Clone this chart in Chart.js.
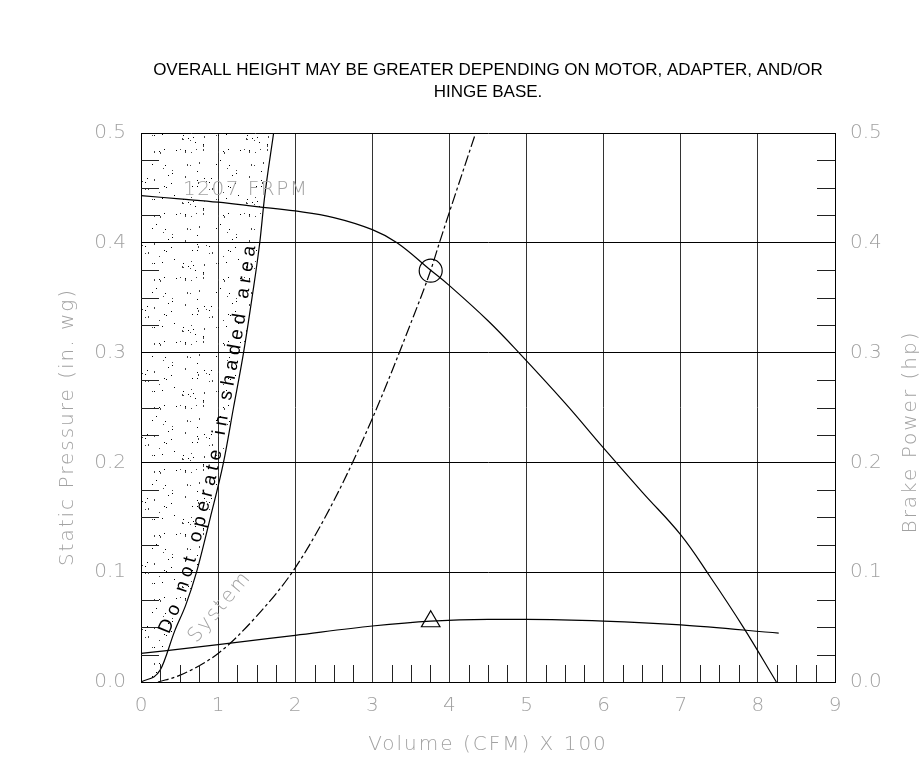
<!DOCTYPE html>
<html>
<head>
<meta charset="utf-8">
<script src="https://cdn.jsdelivr.net/npm/chart.js@4.4.1/dist/chart.umd.min.js"></script>
<style>
  html, body { margin: 0; padding: 0; background: #fff; }
  #wrap { width: 919px; height: 761px; }
</style>
</head>
<body>
<div id="wrap"><canvas id="fanChart" width="919" height="761"></canvas></div>
<script>
// Fan performance, volume in hundreds of CFM

// left edge of the "do not operate" zone
const shadeX = [0, 0.25, 0.44, 0.58, 0.72, 0.9, 1.07, 1.2, 1.33, 1.44, 1.54, 1.6, 1.72];
const shadeY = [0, 0.011, 0.047, 0.07, 0.1, 0.15, 0.2, 0.25, 0.3, 0.35, 0.4, 0.44, 0.5];

// static pressure at 1207 RPM
const volumeX = [0, 0.5, 1, 1.5, 2, 2.5, 3, 3.32, 3.757, 4, 4.5, 4.9, 5.5, 6, 6.5, 7, 7.37, 7.81, 8.24];
const pressureY = [0.443, 0.44, 0.437, 0.433, 0.429, 0.423, 0.412, 0.4, 0.375, 0.361, 0.329, 0.3, 0.254, 0.213, 0.173, 0.134, 0.097, 0.05, 0];

// system curve
const systemX = [0.22, 0.5, 1, 1.5, 2, 2.5, 3, 3.5, 3.757, 3.87, 4, 4.34];
const systemY = [0, 0.006, 0.026, 0.06, 0.104, 0.165, 0.24, 0.327, 0.375, 0.4, 0.428, 0.5];

// brake power (right axis)
const powerX = [0, 1, 2, 3, 3.757, 4.5, 5, 6, 7, 8.27];
const powerY = [0.026, 0.034, 0.0425, 0.051, 0.0555, 0.057, 0.057, 0.0555, 0.052, 0.0445];

// operating point
const opX = [3.757];
const opPressure = [0.3746];
const opPower = [0.0552];

const xTickLabels = ['0', '1', '2', '3', '4', '5', '6', '7', '8', '9'];
const yTickLabels = ['0.0', '0.1', '0.2', '0.3', '0.4', '0.5'];
const powerTickLabels = ['0.0', '0.1', '0.2', '0.3', '0.4', '0.5'];

const titleLines = ['OVERALL HEIGHT MAY BE GREATER DEPENDING ON MOTOR, ADAPTER, AND/OR', 'HINGE BASE.'];
const xTitle = 'Volume (CFM) X 100';
const yTitle = 'Static Pressure (in. wg)';
const y2Title = 'Brake Power (hp)';
const rpmLabel = '1207 FRPM';
const systemLabel = 'System';
const zoneLabel = 'Do not operate in shaded area';

const GREY = '#a2a2a2';
const THIN = '"DejaVu Sans", sans-serif';

const pairs = (xs, ys) => xs.map((x, i) => ({ x, y: ys[i] }));

// speckle texture for the shaded zone
function stipple(ctx) {
  const size = 64;
  const c = document.createElement('canvas');
  c.width = size; c.height = size;
  const g = c.getContext('2d');
  let s = 20240611;
  const rand = () => {
    s = (s + 0x6D2B79F5) | 0;
    let t = Math.imul(s ^ (s >>> 15), 1 | s);
    t = (t + Math.imul(t ^ (t >>> 7), 61 | t)) ^ t;
    return ((t ^ (t >>> 14)) >>> 0) / 4294967296;
  };
  for (let i = 0; i < 54; i++) {
    const px = Math.floor(rand() * size), py = Math.floor(rand() * size);
    const r = rand();
    g.fillStyle = r < 0.5 ? '#000' : '#444';
    g.fillRect(px, py, 1, r > 0.8 ? 2 : 1);
  }
  return ctx.createPattern(c, 'repeat');
}

// sample the drawn bezier of a line dataset into a polyline
function samplePath(meta) {
  const els = meta.data, out = [];
  for (let i = 0; i < els.length - 1; i++) {
    const a = els[i], b = els[i + 1];
    const c1x = a.cp2x ?? a.x, c1y = a.cp2y ?? a.y, c2x = b.cp1x ?? b.x, c2y = b.cp1y ?? b.y;
    for (let k = 0; k < 12; k++) {
      const t = k / 12, u = 1 - t;
      out.push({
        x: u * u * u * a.x + 3 * u * u * t * c1x + 3 * u * t * t * c2x + t * t * t * b.x,
        y: u * u * u * a.y + 3 * u * u * t * c1y + 3 * u * t * t * c2y + t * t * t * b.y
      });
    }
  }
  const last = els[els.length - 1];
  out.push({ x: last.x, y: last.y });
  return out;
}

function lengthAtY(path, py) {
  let s = 0;
  for (let i = 1; i < path.length; i++) {
    const p = path[i - 1], q = path[i];
    const L = Math.hypot(q.x - p.x, q.y - p.y);
    if ((p.y - py) * (q.y - py) <= 0 && p.y !== q.y) return s + L * (p.y - py) / (p.y - q.y);
    s += L;
  }
  return s;
}

function along(path, s) {
  for (let i = 1; i < path.length; i++) {
    const p = path[i - 1], q = path[i];
    const L = Math.hypot(q.x - p.x, q.y - p.y);
    if (s <= L || i === path.length - 1) {
      const t = L ? s / L : 0;
      return { x: p.x + (q.x - p.x) * t, y: p.y + (q.y - p.y) * t, ang: Math.atan2(q.y - p.y, q.x - p.x) };
    }
    s -= L;
  }
}

function textOnPath(ctx, path, text, yStart, yEnd, offset) {
  const s0 = lengthAtY(path, yStart), s1 = lengthAtY(path, yEnd);
  const chars = [...text];
  const widths = chars.map(ch => ctx.measureText(ch).width);
  const sum = widths.reduce((a, b) => a + b, 0);
  const gap = (s1 - s0 - sum) / (chars.length - 1);
  let s = s0;
  ctx.textAlign = 'center';
  ctx.textBaseline = 'alphabetic';
  chars.forEach((ch, i) => {
    const p = along(path, s + widths[i] / 2);
    const ux = Math.sin(p.ang), uy = -Math.cos(p.ang);
    ctx.save();
    ctx.translate(p.x + ux * offset, p.y + uy * offset);
    ctx.rotate(p.ang);
    ctx.fillText(ch, 0, 0);
    ctx.restore();
    s += widths[i] + gap;
  });
}

function spaced(ctx, text, x, y, rot, spacing) {
  ctx.save();
  ctx.translate(x, y);
  ctx.rotate(rot);
  ctx.letterSpacing = spacing;
  ctx.fillText(text, 0, 0);
  ctx.restore();
}

const overlay = {
  id: 'overlay',
  afterDatasetsDraw(chart) {
    const { ctx, chartArea: a, scales: { x, y } } = chart;
    ctx.save();

    // minor ticks: 0.025 on the pressure / power sides, 0.25 on volume
    ctx.strokeStyle = '#222';
    ctx.lineWidth = 1;
    ctx.beginPath();
    for (let i = 1; i < 20; i++) {
      if (i % 4 === 0) continue;
      const py = Math.round(y.getPixelForValue(i * 0.025)) + 0.5;
      ctx.moveTo(a.left, py); ctx.lineTo(a.left + 18, py);
      ctx.moveTo(a.right - 18, py); ctx.lineTo(a.right, py);
    }
    for (let i = 1; i < 36; i++) {
      if (i % 4 === 0) continue;
      const px = Math.round(x.getPixelForValue(i * 0.25)) + 0.5;
      ctx.moveTo(px, a.bottom); ctx.lineTo(px, a.bottom - 17);
    }
    ctx.stroke();

    // zone label along the boundary
    ctx.fillStyle = '#000';
    ctx.font = '19px "Liberation Sans", Arial, sans-serif';
    textOnPath(ctx, samplePath(chart.getDatasetMeta(0)), zoneLabel, 636, 247, 4);

    // grey labels
    ctx.fillStyle = GREY;
    ctx.font = '200 20px ' + THIN;
    ctx.textAlign = 'left';
    ctx.textBaseline = 'middle';
    spaced(ctx, rpmLabel, 183, 190, 0, '1.5px');
    ctx.textAlign = 'center';
    spaced(ctx, systemLabel, 220, 607, -50 * Math.PI / 180, '2px');

    // axis titles
    spaced(ctx, xTitle, (a.left + a.right) / 2, 745, 0, '2px');
    spaced(ctx, yTitle, 68, 427, -Math.PI / 2, '2px');
    spaced(ctx, y2Title, 911, 432, -Math.PI / 2, '2px');

    // heading
    ctx.fillStyle = '#000';
    ctx.font = '17px "Liberation Sans", Arial, sans-serif';
    ctx.letterSpacing = '0px';
    titleLines.forEach((line, i) => ctx.fillText(line, (a.left + a.right) / 2, 70 + i * 22));
    ctx.restore();
  }
};

const canvas = document.getElementById('fanChart');
const pattern = stipple(canvas.getContext('2d'));
const tickFont = { family: THIN, size: 20, weight: 200 };
const line = { showLine: true, pointRadius: 0, borderColor: '#000', borderWidth: 1.2, cubicInterpolationMode: 'monotone', fill: false };

new Chart(canvas, {
  type: 'scatter',
  data: {
    datasets: [
      { ...line, data: pairs(shadeX, shadeY), fill: 'end', backgroundColor: pattern },
      { ...line, data: pairs(volumeX, pressureY), cubicInterpolationMode: 'default', tension: 0.4 },
      { ...line, data: pairs(systemX, systemY), borderDash: [11, 3, 3, 3] },
      { ...line, data: pairs(powerX, powerY), yAxisID: 'y2' },
      { data: pairs(opX, opPressure), pointStyle: 'circle', pointRadius: 11.5, borderColor: '#000', borderWidth: 1.2, backgroundColor: 'rgba(0,0,0,0)' },
      { data: pairs(opX, opPower), yAxisID: 'y2', pointStyle: 'triangle', pointRadius: 10.7, borderColor: '#000', borderWidth: 1.2, backgroundColor: 'rgba(0,0,0,0)' }
    ]
  },
  options: {
    responsive: false,
    devicePixelRatio: 1,
    animation: false,
    events: [],
    layout: { padding: { top: 133, left: 0, right: 0, bottom: 0 } },
    plugins: { legend: { display: false }, tooltip: { enabled: false } },
    scales: {
      x: {
        type: 'linear', min: 0, max: 9,
        afterFit: s => { s.height = 79; },
        grid: { color: '#333', lineWidth: 1, drawTicks: false },
        border: { color: '#000', width: 1 },
        ticks: { stepSize: 1, padding: 12, color: GREY, font: tickFont, callback: (v, i) => xTickLabels[i] }
      },
      y: {
        type: 'linear', min: 0, max: 0.5,
        afterFit: s => { s.width = 141; },
        grid: { color: '#000', lineWidth: 1, drawTicks: false },
        border: { color: '#000', width: 1 },
        ticks: { stepSize: 0.1, padding: 15, color: GREY, font: tickFont, callback: (v, i) => yTickLabels[i] }
      },
      y2: {
        type: 'linear', position: 'right', min: 0, max: 0.5,
        afterFit: s => { s.width = 84; },
        grid: { drawOnChartArea: false, drawTicks: false },
        border: { color: '#000', width: 1 },
        ticks: { stepSize: 0.1, padding: 15, color: GREY, font: tickFont, callback: (v, i) => powerTickLabels[i] }
      }
    }
  },
  plugins: [overlay]
});
</script>
</body>
</html>
